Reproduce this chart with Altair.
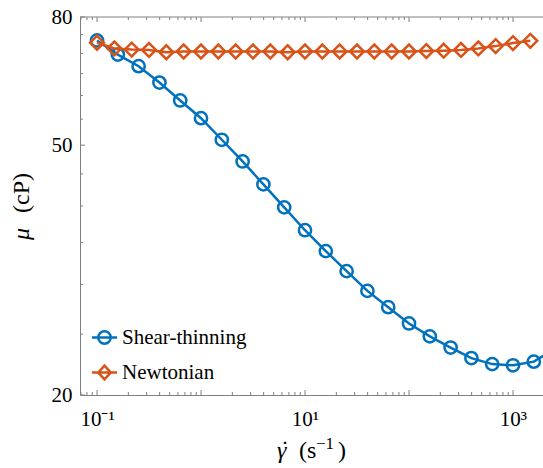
import altair as alt
import pandas as pd

# ---------------- data ----------------
shear_x = [0.1, 0.1585, 0.2512, 0.3981, 0.631, 1.0, 1.585, 2.512, 3.981, 6.31,
           10, 15.85, 25.12, 39.81, 63.1, 100, 158.5, 251.2, 398.1, 631,
           1000, 1585, 2512]
shear_mu = [73.4, 69.7, 66.8, 62.9, 58.9, 55.2, 51.0, 47.1, 43.3, 39.8,
            36.6, 33.9, 31.5, 29.3, 27.6, 26.0, 24.8, 23.8, 22.9, 22.4,
            22.3, 22.6, 23.7]

newt_x = [0.1, 0.1468, 0.2154, 0.3162, 0.4642, 0.6813, 1.0, 1.468, 2.154, 3.162,
          4.642, 6.813, 10, 14.68, 21.54, 31.62, 46.42, 68.13, 100, 146.8,
          215.4, 316.2, 464.2, 681.3, 1000, 1468]
newt_mu = [72.8, 71.3, 71.0, 70.9, 70.3, 70.5, 70.5, 70.5, 70.5, 70.5,
           70.5, 70.3, 70.5, 70.5, 70.5, 70.5, 70.5, 70.5, 70.5, 70.6,
           70.7, 70.9, 71.3, 71.9, 72.7, 73.3]

series_names = ["Shear-thinning", "Newtonian"]
series_colors = ["#0072BD", "#D95319"]

x_major = [0.1, 1, 10, 100, 1000]
x_labeled = [0.1, 10, 1000]
x_minor = [0.07, 0.08, 0.09,
           0.2, 0.3, 0.4, 0.5, 0.6, 0.7, 0.8, 0.9,
           2, 3, 4, 5, 6, 7, 8, 9,
           20, 30, 40, 50, 60, 70, 80, 90,
           200, 300, 400, 500, 600, 700, 800, 900]
y_major = [20, 50, 80]
y_minor = [25, 30, 35, 40, 45, 55, 60, 65, 70, 75]

# ---------------- layout ----------------
W, H = 463, 378
FONT = "Liberation Serif"
AXC = "#808080"

xscale = alt.Scale(type="log", domain=[0.0686, 1943])
yscale = alt.Scale(type="log", domain=[20, 80])

ax_x = alt.Axis(values=x_labeled, title=None, ticks=False, tickSize=0, grid=False,
                domainColor=AXC, domainWidth=1,
                labelFont=FONT, labelFontSize=21, labelColor="black", labelPadding=13,
                labelExpr="datum.value < 1 ? '10⁻¹' : (datum.value < 100 ? '10¹' : '10³')")
ax_y = alt.Axis(values=y_major, title=None, ticks=False, tickSize=0, grid=False,
                domainColor=AXC, domainWidth=1, format="d",
                labelFont=FONT, labelFontSize=21, labelColor="black", labelPadding=8)

shear_df = pd.DataFrame({"x": shear_x, "mu": shear_mu})
newt_df = pd.DataFrame({"x": newt_x, "mu": newt_mu})


def X(f="x"):
    return alt.X(f"{f}:Q", scale=xscale, axis=ax_x)


def Y(f="mu"):
    return alt.Y(f"{f}:Q", scale=yscale, axis=ax_y)


# ---------------- ticks (inward) ----------------
def xticks(vals, length, top):
    d = pd.DataFrame({"v": vals})
    y0 = 0 if top else H
    y1 = length if top else H - length
    return alt.Chart(d).mark_rule(color=AXC, strokeWidth=1).encode(
        x=X("v"), y=alt.value(y0), y2=alt.value(y1))


def yticks(vals, length):
    d = pd.DataFrame({"v": vals})
    return alt.Chart(d).mark_rule(color=AXC, strokeWidth=1).encode(
        y=Y("v"), x=alt.value(0), x2=alt.value(length))


top_border = alt.Chart(pd.DataFrame({"a": [0]})).mark_rule(color=AXC, strokeWidth=1).encode(
    x=alt.value(0), x2=alt.value(W), y=alt.value(0))

tick_layers = [
    xticks(x_major, 5, False), xticks(x_minor, 3, False),
    xticks(x_major, 5, True), xticks(x_minor, 3, True),
    yticks(y_major, 5), yticks(y_minor, 3),
    top_border,
]

# ---------------- series ----------------
LW = 2.5
blue, orange = series_colors

line_blue = alt.Chart(shear_df).mark_line(color=blue, strokeWidth=LW, clip=True).encode(x=X(), y=Y())
pts_blue = alt.Chart(shear_df).mark_point(shape="circle", filled=False, color=blue, strokeWidth=LW,
                                          size=150, opacity=1, clip=True).encode(x=X(), y=Y())
line_orange = alt.Chart(newt_df).mark_line(color=orange, strokeWidth=LW, clip=True).encode(x=X(), y=Y())
pts_orange = alt.Chart(newt_df).mark_point(shape="diamond", filled=False, color=orange, strokeWidth=LW,
                                           size=190, opacity=1, clip=True).encode(x=X(), y=Y())

# ---------------- legend (symbols: line through marker) ----------------
circle_path = "M-2,0L2,0M-1,0A1,1,0,1,1,1,0A1,1,0,1,1,-1,0"
diamond_path = "M-2,0L2,0M-1,0L0,-1.1L1,0L0,1.1Z"

leg = alt.Legend(title=None, orient="none", legendX=14, legendY=310, padding=0,
                 labelFont=FONT, labelFontSize=21, labelColor="black", labelOffset=7,
                 symbolSize=156, symbolStrokeWidth=LW, rowPadding=11)
legend_layer = alt.Chart(pd.DataFrame({"series": series_names})).mark_point(
    filled=False, strokeWidth=LW, size=156, opacity=1, clip=True).encode(
    x=alt.value(-1000), y=alt.value(-1000),
    color=alt.Color("series:N", scale=alt.Scale(domain=series_names, range=series_colors), legend=leg),
    shape=alt.Shape("series:N", scale=alt.Scale(domain=series_names, range=[circle_path, diamond_path]),
                    legend=leg),
)

# ---------------- axis titles ----------------
def label(txt, x, y, italic=False, angle=0, size=24, align="left"):
    kw = dict(font=FONT, fontSize=size, align=align, baseline="alphabetic", color="black")
    if italic:
        kw["fontStyle"] = "italic"
    if angle:
        kw["angle"] = angle
    return alt.Chart(pd.DataFrame({"t": [txt]})).mark_text(**kw).encode(
        x=alt.value(x), y=alt.value(y), text="t:N")


titles = [
    label("γ", 197, 441, italic=True),
    label("\u02d9", 205, 440, align="center"),
    label("(s", 219, 441),
    label("\u22121", 236, 432, size=17),
    label(")", 258, 441),
    label("μ", -51, 223, italic=True, angle=270),
    label("(cP)", -51, 196, angle=270),
]

chart = alt.layer(
    *tick_layers, line_blue, pts_blue, line_orange, pts_orange, legend_layer, *titles
).properties(
    width=W, height=H,
    padding={"left": 80, "top": 17, "right": 0, "bottom": 73},
    autosize=alt.AutoSizeParams(type="none"),
    background="white",
).configure_view(stroke=None)

chart.save("out.html", embed_options={"renderer": "svg", "actions": False})
